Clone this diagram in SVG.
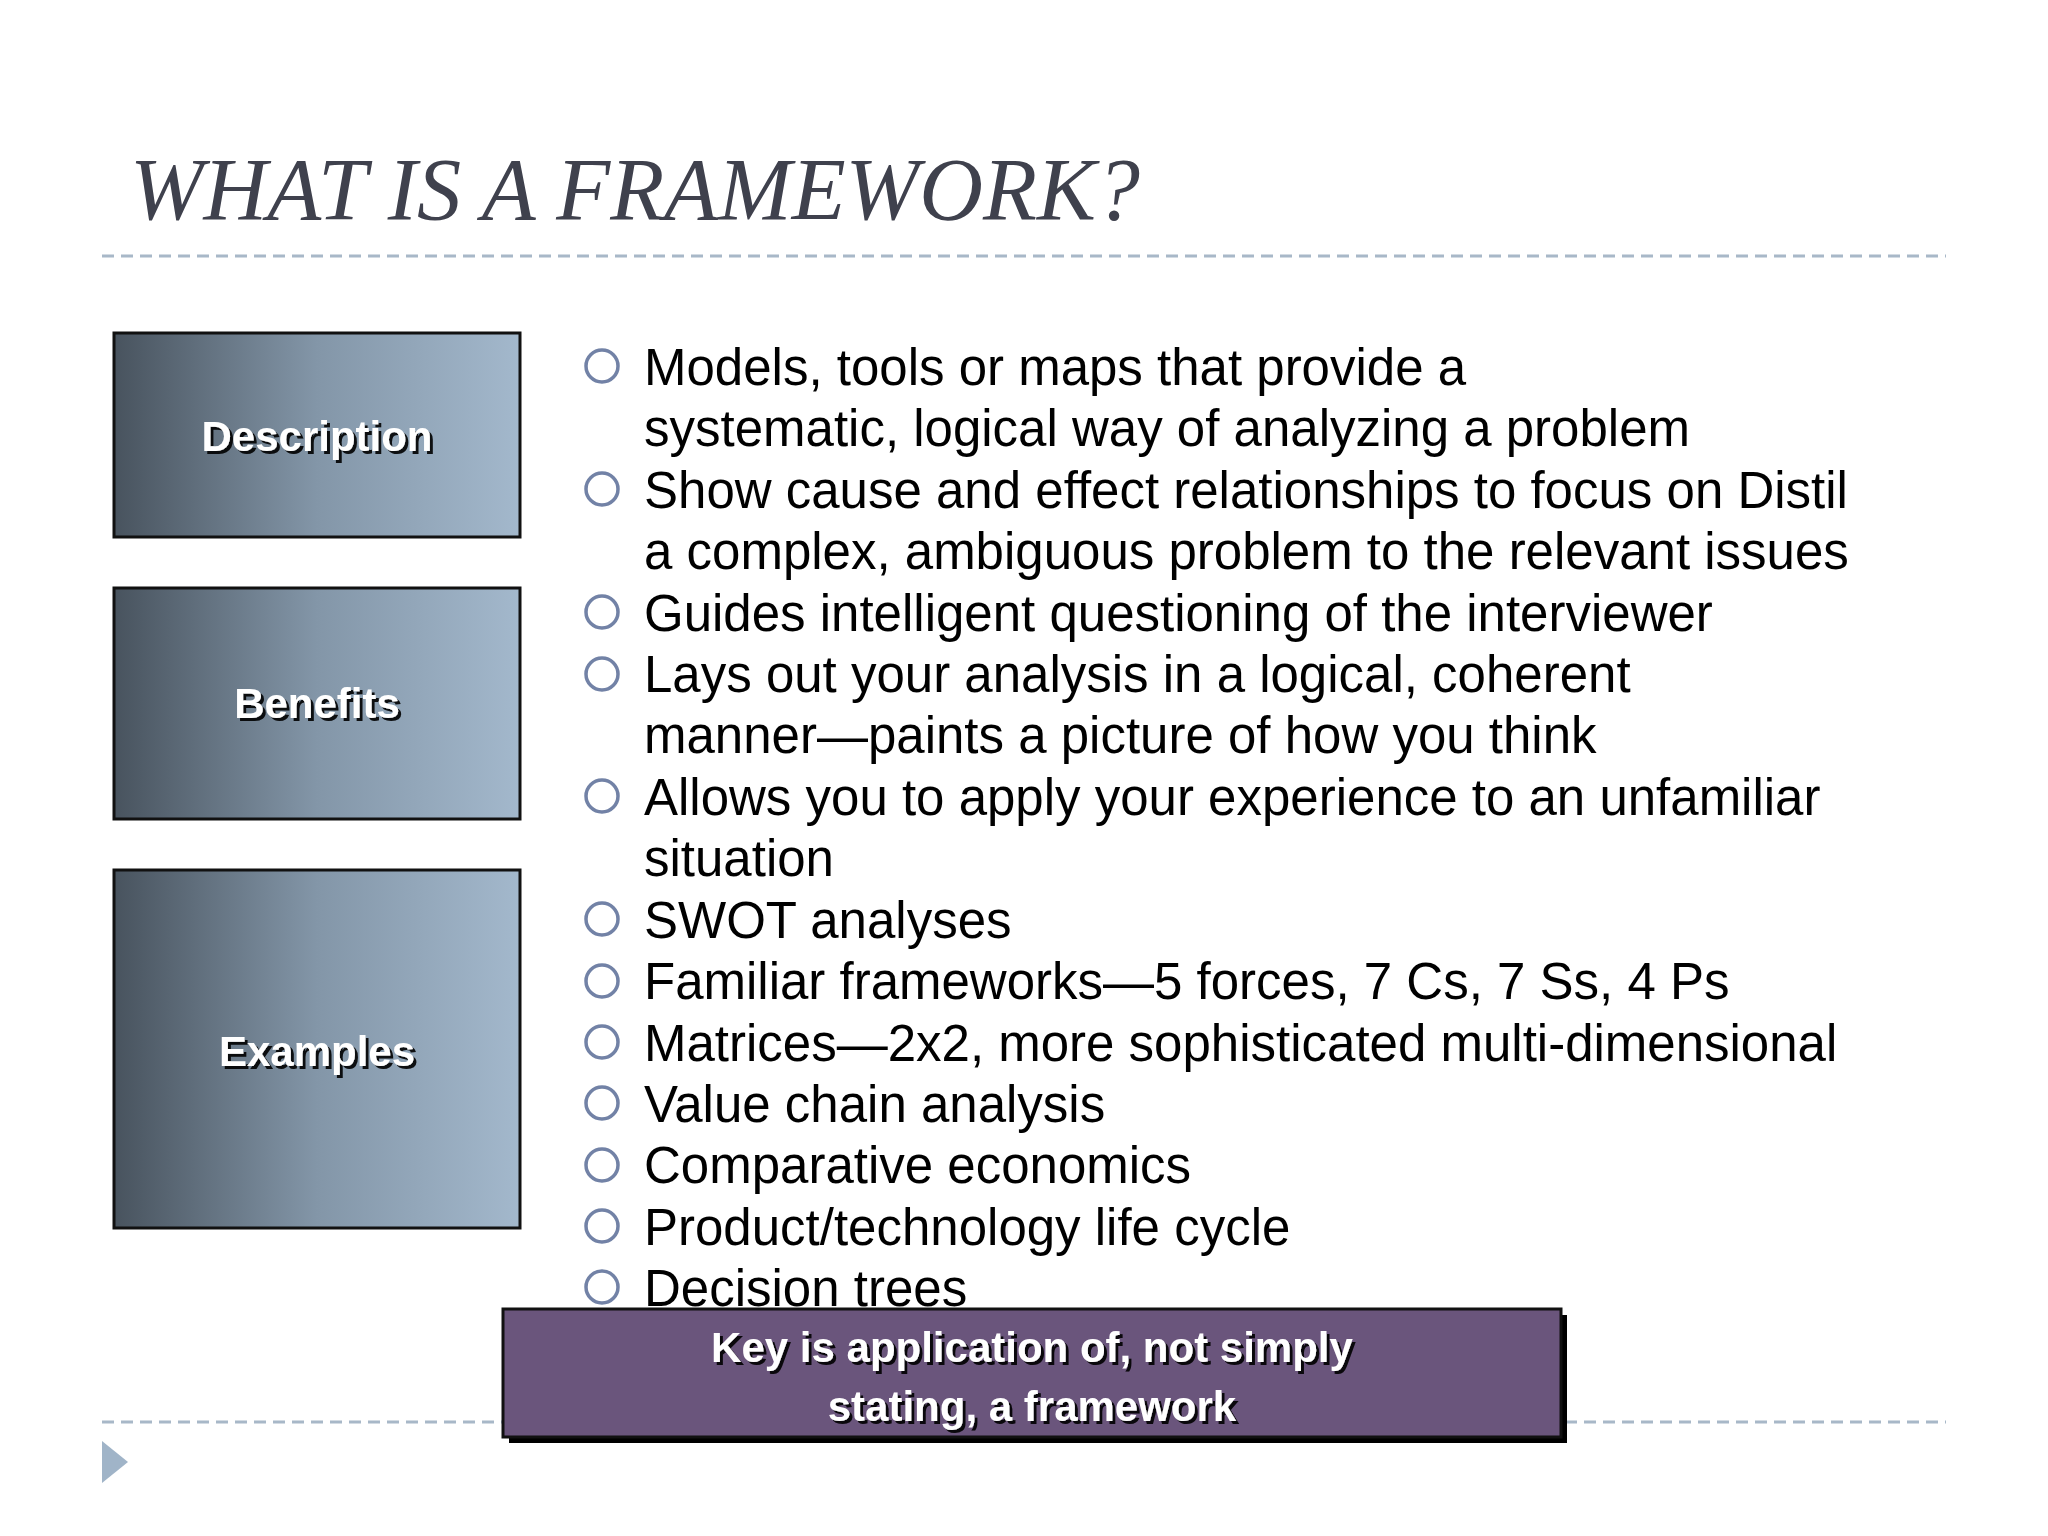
<svg xmlns="http://www.w3.org/2000/svg" width="2048" height="1536" viewBox="0 0 2048 1536">
<defs>
<linearGradient id="g" x1="0" y1="0" x2="1" y2="0">
<stop offset="0" stop-color="#48535e"/><stop offset="0.5" stop-color="#8396a8"/><stop offset="1" stop-color="#a3b8cc"/>
</linearGradient>
<filter id="sh" x="-10%" y="-20%" width="130%" height="150%"><feDropShadow dx="3" dy="3" stdDeviation="0.5" flood-color="#000" flood-opacity="0.9"/></filter>
</defs>
<style>
.lbl{font-family:"Liberation Sans",Arial,sans-serif;font-weight:bold;font-size:42px;fill:#fff;text-anchor:middle;filter:url(#sh)}
.b{font-family:"Liberation Sans",Arial,sans-serif;font-size:51px;fill:#000}
.dot{fill:none;stroke:#7282a6;stroke-width:3.5}
.box{fill:url(#g);stroke:#111;stroke-width:3}
.dash{stroke:#a8b8c8;stroke-width:3;stroke-dasharray:12 7}
</style>
<rect width="2048" height="1536" fill="#fff"/>
<text x="130" y="219" font-family="Liberation Serif,serif" font-style="italic" font-size="88" fill="#3f414d" textLength="1010" lengthAdjust="spacingAndGlyphs">WHAT IS A FRAMEWORK?</text>
<line class="dash" x1="102" y1="256" x2="1946" y2="256"/>
<line class="dash" x1="102" y1="1422" x2="1946" y2="1422"/>
<polygon points="102,1441 128,1462 102,1483" fill="#a0b4c8"/>
<g id="description"><rect class="box" x="114" y="333" width="406" height="204"/><text class="lbl" x="317" y="451">Description</text></g>
<g id="benefits"><rect class="box" x="114" y="588" width="406" height="231"/><text class="lbl" x="317" y="718">Benefits</text></g>
<g id="examples"><rect class="box" x="114" y="870" width="406" height="358"/><text class="lbl" x="317" y="1066">Examples</text></g>
<g id="bullets">
<circle class="dot" cx="602" cy="366" r="16"/><text class="b" x="644" y="385">Models, tools or maps that provide a</text>
<text class="b" x="644" y="446">systematic, logical way of analyzing a problem</text>
<circle class="dot" cx="602" cy="489" r="16"/><text class="b" x="644" y="508">Show cause and effect relationships to focus on Distil</text>
<text class="b" x="644" y="569">a complex, ambiguous problem to the relevant issues</text>
<circle class="dot" cx="602" cy="612" r="16"/><text class="b" x="644" y="631">Guides intelligent questioning of the interviewer</text>
<circle class="dot" cx="602" cy="674" r="16"/><text class="b" x="644" y="692">Lays out your analysis in a logical, coherent</text>
<text class="b" x="644" y="753">manner—paints a picture of how you think</text>
<circle class="dot" cx="602" cy="796" r="16"/><text class="b" x="644" y="815">Allows you to apply your experience to an unfamiliar</text>
<text class="b" x="644" y="876">situation</text>
<circle class="dot" cx="602" cy="919" r="16"/><text class="b" x="644" y="938">SWOT analyses</text>
<circle class="dot" cx="602" cy="981" r="16"/><text class="b" x="644" y="999">Familiar frameworks—5 forces, 7 Cs, 7 Ss, 4 Ps</text>
<circle class="dot" cx="602" cy="1042" r="16"/><text class="b" x="644" y="1061">Matrices—2x2, more sophisticated multi-dimensional</text>
<circle class="dot" cx="602" cy="1103" r="16"/><text class="b" x="644" y="1122">Value chain analysis</text>
<circle class="dot" cx="602" cy="1165" r="16"/><text class="b" x="644" y="1183">Comparative economics</text>
<circle class="dot" cx="602" cy="1226" r="16"/><text class="b" x="644" y="1245">Product/technology life cycle</text>
<circle class="dot" cx="602" cy="1287" r="16"/><text class="b" x="644" y="1306">Decision trees</text>
</g>
<g id="key">
<rect x="509" y="1315" width="1058" height="128" fill="#000"/>
<rect x="503" y="1309" width="1058" height="128" fill="#6a557c" stroke="#111" stroke-width="3"/>
<text class="lbl" x="1032" y="1362" font-size="54">Key is application of, not simply</text>
<text class="lbl" x="1032" y="1421" font-size="54">stating, a framework</text>
</g>
</svg>
